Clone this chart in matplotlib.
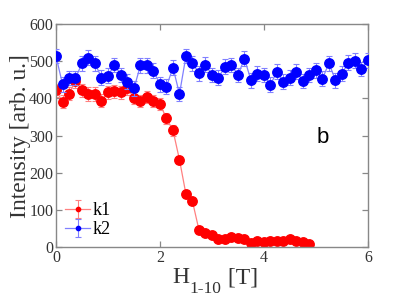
import numpy as np
import matplotlib
matplotlib.use("Agg")
import matplotlib.pyplot as plt

plt.rcParams['font.family'] = ['Liberation Serif', 'DejaVu Serif']

# field values (T)
x_k2 = [i * 0.125 for i in range(49)]
k2 = [514, 438, 455, 455, 494, 510, 494, 456, 461, 490, 463, 445, 427, 489, 489,
      474, 438, 432, 483, 412, 514, 495, 468, 491, 463, 456, 485, 490, 463, 507,
      449, 467, 463, 437, 472, 445, 456, 472, 447, 463, 476, 453, 495, 449, 467,
      496, 501, 479, 503]
k2_err = [20] * 49

x_k1 = [i * 0.125 for i in range(40)]
k1 = [422, 391, 413, 447, 422, 412, 412, 394, 416, 419, 416, 428, 401, 392, 403,
      392, 385, 346, 314, 235, 142, 123, 46, 37, 32, 21, 21, 28, 25, 21,
      12, 16, 14, 16, 16, 16, 21, 16, 14, 7]
k1_err = [18, 18, 18, 18, 18, 18, 18, 18, 18, 18, 18, 18, 16, 16, 16,
          16, 16, 14, 14, 10, 8, 8, 5, 5, 4, 4, 4, 4, 4, 4,
          3, 3, 3, 3, 3, 3, 3, 3, 3, 3]

fig = plt.figure(figsize=(4.07, 3.05), dpi=100)
ax = fig.add_axes([0.1376, 0.19, 0.7664, 0.731])

ax.errorbar(x_k1, k1, yerr=k1_err, fmt='-', color='#ff8080', lw=0.9,
            ecolor='#ff8080', elinewidth=0.8, capsize=2.2, capthick=0.8,
            marker='o', markersize=6.8, markerfacecolor='#ff0000',
            markeredgecolor='#ff0000', label='k1', zorder=2)
ax.errorbar(x_k2, k2, yerr=k2_err, fmt='-', color='#8080ff', lw=0.9,
            ecolor='#8080ff', elinewidth=0.8, capsize=2.2, capthick=0.8,
            marker='o', markersize=6.8, markerfacecolor='#0000ff',
            markeredgecolor='#0000ff', label='k2', zorder=3)

ax.set_xlim(0, 6)
ax.set_ylim(0, 600)
ax.set_xticks([0, 2, 4, 6])
ax.set_yticks([0, 100, 200, 300, 400, 500, 600])
ax.tick_params(direction='in', top=True, right=True, labelsize=11.5,
               color='#888888', labelcolor='#333333', length=4, width=0.9, pad=2)
for s in ax.spines.values():
    s.set_color('#888888')
    s.set_linewidth(1.0)

ax.set_ylabel('Intensity [arb. u.]', fontsize=17, labelpad=-1, color='#333333')

# x label: H with a lowered subscript, then [T]
h = fig.text(0.423, 0.055, 'H', fontsize=17, ha='left', va='bottom', color='#333333')
sub = ax.annotate('1-10', xy=(1, 0), xycoords=h, xytext=(0.5, -6.5),
                  textcoords='offset points', fontsize=12.5, ha='left',
                  va='bottom', color='#333333', annotation_clip=False)
ax.annotate(' [T]', xy=(1, 0), xycoords=(sub, h), xytext=(0, 0),
            textcoords='offset points', fontsize=17, ha='left',
            va='bottom', color='#333333', annotation_clip=False)

ax.text(5.13, 295, 'b', fontsize=16, family='Liberation Sans',
        ha='center', va='center')

leg = ax.legend(loc='lower left', frameon=False, fontsize=13,
                markerscale=0.45, handlelength=1.4, handletextpad=0.1,
                labelspacing=0.1, borderaxespad=0.1)

fig.savefig('out.png', dpi=100)
